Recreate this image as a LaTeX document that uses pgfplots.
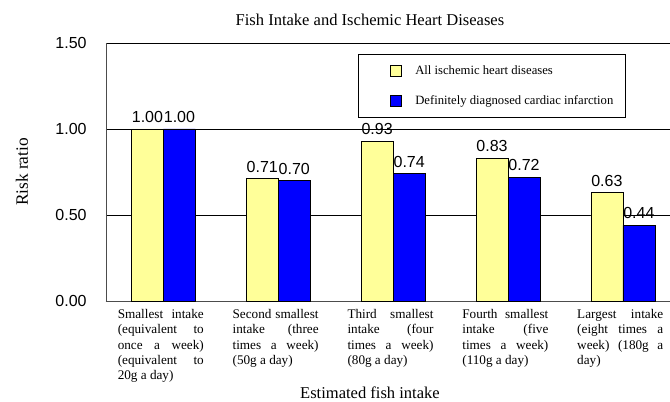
\documentclass[border=0pt]{standalone}
\usepackage{fontspec}
\setmainfont{Liberation Serif}
\newfontfamily\arial{Liberation Sans}
\usepackage{pgfplots}
\pgfplotsset{compat=1.18}
\definecolor{barY}{HTML}{FFFF99}
\definecolor{barB}{HTML}{0000FF}
\newcommand{\Js}[1]{\makebox[64.5pt][s]{#1}}
\newcommand{\Jl}[1]{\makebox[64.5pt][l]{#1}}
\begin{document}
\begin{tikzpicture}
\useasboundingbox (-79.5pt,-75.75pt) rectangle (423pt,225.75pt);
\begin{axis}[
  anchor=south west, at={(0pt,0pt)},
  width=423pt, height=193.5pt, scale only axis,
  xmin=-0.5, xmax=4.41, ymin=0, ymax=1.5,
  ybar=0pt, bar width=24pt,
  axis lines*=left, axis line style={-, black!70, line width=0.7pt},
  ytick={0,0.5,1,1.5},
  major tick length=0pt,
  ymajorgrids, grid style={black, line width=0.6pt},
  /pgf/number format/assume math mode=true,
  yticklabel={\pgfmathprintnumber[fixed,fixed zerofill,precision=2]{\tick}},
  yticklabel style={font=\arial\fontsize{12}{14}\selectfont, anchor=east, xshift=-11pt},
  xtick={0,1,2,3,4},
  xticklabels={
    {\Js{Smallest intake}\\\Js{(equivalent to}\\\Js{once a week)}\\\Js{(equivalent to}\\\Jl{20g a day)}},
    {\Js{Second smallest}\\\Js{intake (three}\\\Js{times a week)}\\\Jl{(50g a day)}},
    {\Js{Third smallest}\\\Js{intake (four}\\\Js{times a week)}\\\Jl{(80g a day)}},
    {\Js{Fourth smallest}\\\Js{intake (five}\\\Js{times a week)}\\\Jl{(110g a day)}},
    {\Js{Largest intake}\\\Js{(eight times a}\\\Js{week) (180g a}\\\Jl{day)}}},
  xticklabel style={align=left, font=\fontsize{9.9}{11.3}\selectfont, anchor=north, xshift=-2pt, yshift=-3pt},
  every axis title shift=0pt,
  title={Fish Intake and Ischemic Heart Diseases},
  title style={at={(rel axis cs:0.468,1.089)}, anchor=center, yshift=0pt, font=\fontsize{12.4}{14}\selectfont},
  xlabel={Estimated fish intake},
  xlabel style={at={(rel axis cs:0.468,-0.357)}, anchor=center, font=\fontsize{12.4}{14}\selectfont},
  ylabel={Risk ratio},
  ylabel style={at={(rel axis cs:-0.149,0.5)}, anchor=center, rotate=0, font=\fontsize{13}{15}\selectfont},
  nodes near coords,
  nodes near coords style={font=\arial\fontsize{12}{14}\selectfont, yshift=1pt,
    /pgf/number format/.cd, fixed, fixed zerofill, precision=2, assume math mode=true},
  legend style={at={(rel axis cs:0.447,0.957)}, anchor=north west, draw=black, line width=0.6pt,
    font=\fontsize{9.5}{11}\selectfont, inner xsep=7pt, inner ysep=6.5pt, row sep=10pt,
    cells={anchor=west}},
  legend image code/.code={\path (0pt,0pt) (33pt,0pt); \draw[#1, draw=black, line width=0.6pt] (16.5pt,-4.1pt) rectangle (24.75pt,4.1pt);},
  clip=false,
]
\addplot[fill=barY, draw=black, line width=0.6pt] coordinates {(0,1.00) (1,0.71) (2,0.93) (3,0.83) (4,0.63)};
\addplot[fill=barB, draw=black, line width=0.6pt] coordinates {(0,1.00) (1,0.70) (2,0.74) (3,0.72) (4,0.44)};
\legend{All ischemic heart diseases, Definitely diagnosed cardiac infarction}
\end{axis}
\end{tikzpicture}
\end{document}
